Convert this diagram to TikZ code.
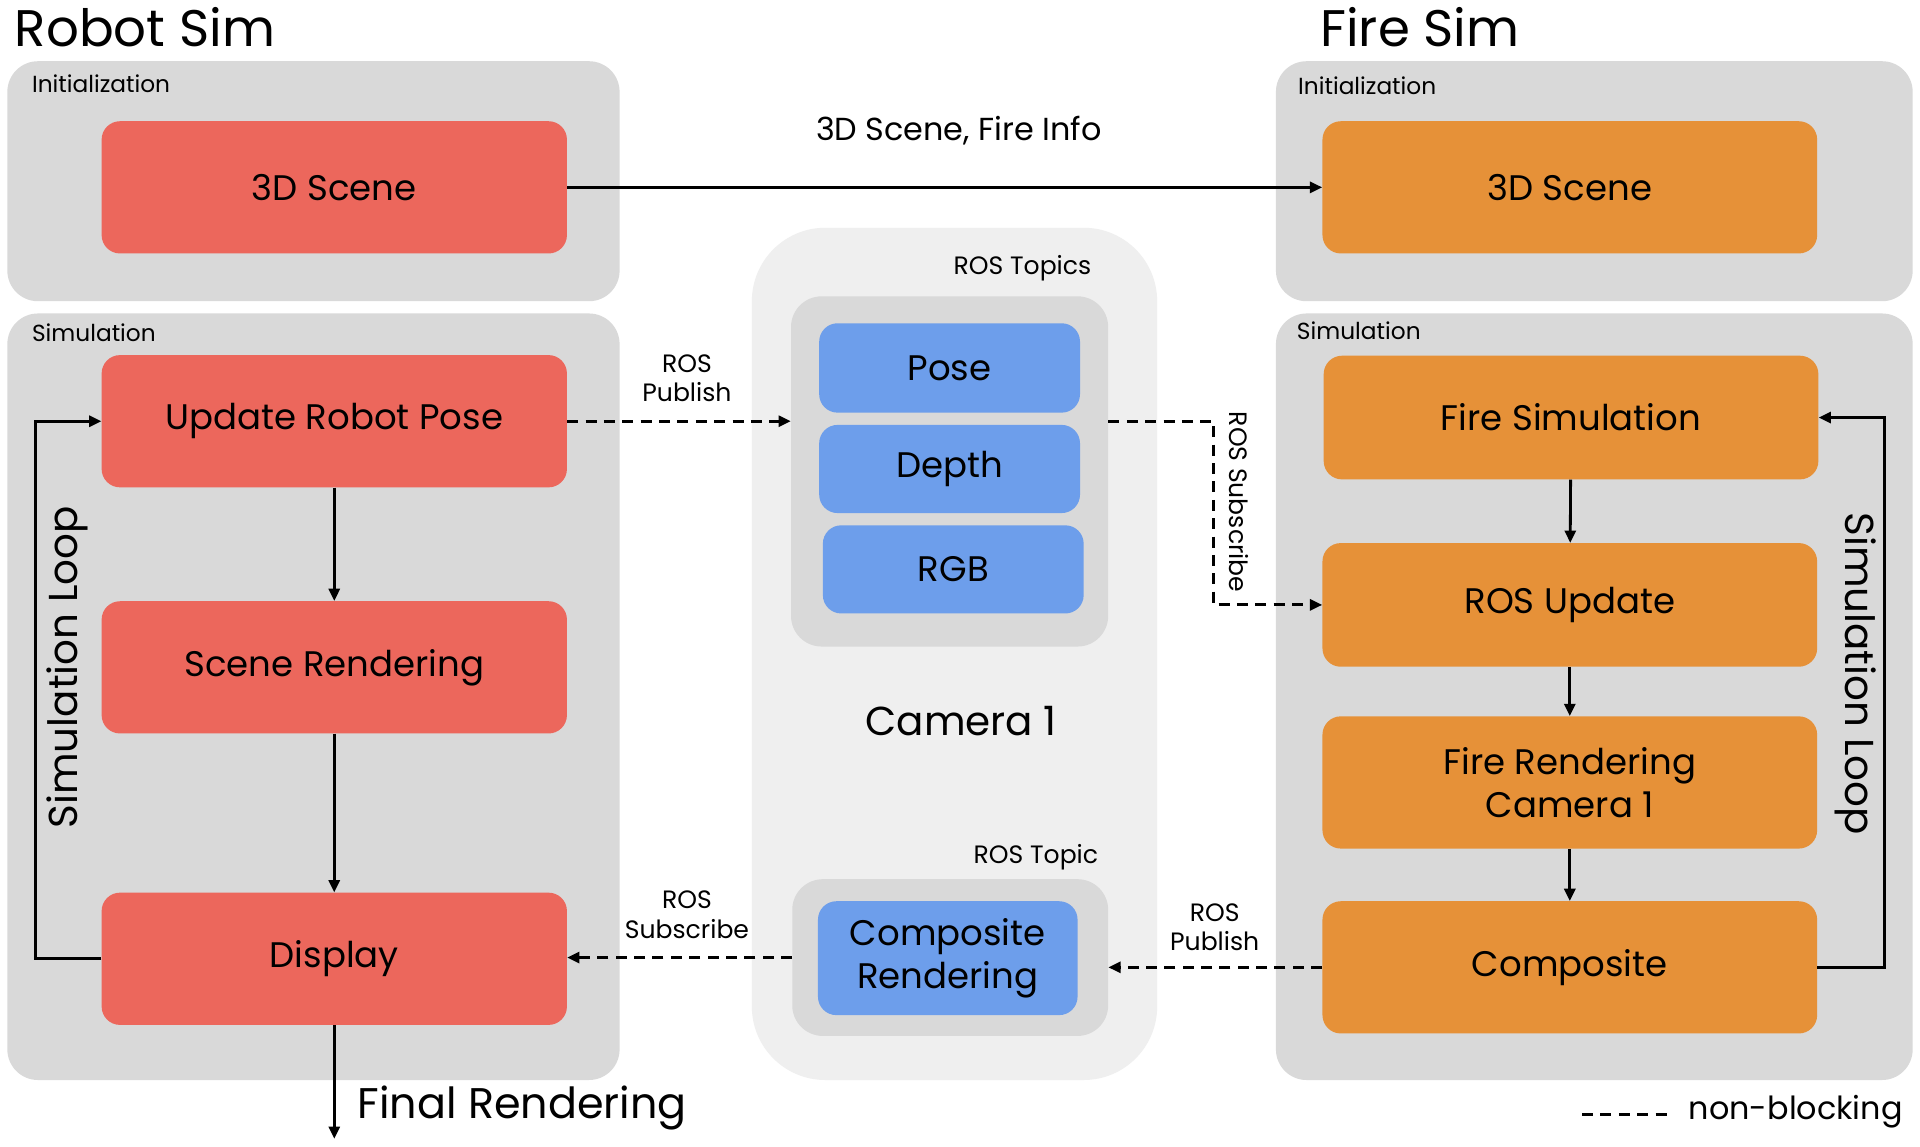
\documentclass[tikz,border=0pt]{standalone}
\usepackage{fontspec}
\setmainfont{Poppins}
\usetikzlibrary{arrows.meta}
\definecolor{robotred}{HTML}{EC675C}
\definecolor{fireorange}{HTML}{E69138}
\definecolor{topicblue}{HTML}{6D9EEB}
\definecolor{panelgray}{HTML}{D9D9D9}
\definecolor{camgray}{HTML}{EFEFEF}
\begin{document}
\begin{tikzpicture}[x=1pt,y=-1pt,
  panel/.style={fill=panelgray, rounded corners=25pt, inner sep=0pt},
  box/.style={rounded corners=15pt, minimum width=380pt, minimum height=108pt,
    align=center, inner sep=0pt, font=\fontsize{29}{35}\selectfont},
  robot/.style={box, fill=robotred},
  fire/.style={box, fill=fireorange, minimum width=404pt},
  topic/.style={box, fill=topicblue, minimum width=213pt, minimum height=73pt},
  tag/.style={anchor=west, inner sep=0pt, font=\fontsize{19}{22}\selectfont},
  small/.style={align=center, inner sep=0pt, font=\fontsize{20.5}{24}\selectfont},
  big/.style={inner sep=0pt, font=\fontsize{33}{38}\selectfont},
  flow/.style={line width=2.3pt, -{Triangle[length=10pt,width=9pt]}},
  nb/.style={flow, dash pattern=on 9pt off 6pt},
]
\fill[white] (0,0) rectangle (1568,936);
\useasboundingbox (0,0) rectangle (1568,936);

% titles
\node[anchor=west, inner sep=0pt, font=\fontsize{42}{46}\selectfont] (robotsim) at (12,22) {Robot Sim};
\node[anchor=west, inner sep=0pt, font=\fontsize{42}{46}\selectfont] (firesim-title) at (1078,22) {Fire Sim};

% panels
\node[panel, minimum width=500pt, minimum height=196pt] (rinit) at (256,148) {};
\node[panel, minimum width=500pt, minimum height=626pt] (rsim) at (256,569) {};
\node[panel, fill=camgray, rounded corners=60pt, minimum width=331pt, minimum height=696pt] (cam) at (779.5,534) {};
\node[panel, minimum width=259pt, minimum height=286pt] (topics) at (775.5,385) {};
\node[panel, minimum width=258pt, minimum height=128pt] (comptopic) at (776,782) {};
\node[panel, minimum width=520pt, minimum height=196pt] (finit) at (1302,148) {};
\node[panel, minimum width=520pt, minimum height=626pt] (fsim) at (1302,569) {};

\node[tag] (rinit-tag) at (26,68) {Initialization};
\node[tag] (rsim-tag) at (26,272) {Simulation};
\node[tag] (finit-tag) at (1060,70) {Initialization};
\node[tag] (fsim-tag) at (1059,270) {Simulation};
\node[small] (topics-tag) at (835,219) {ROS Topics};
\node[small] (comptopic-tag) at (846,700) {ROS Topic};
\node[big] (camera) at (785,589) {Camera 1};

% robot sim
\node[robot] (rscene) at (273,153) {3D Scene};
\node[robot] (rpose) at (273,344) {Update Robot Pose};
\node[robot] (rrender) at (273,545) {Scene Rendering};
\node[robot] (display) at (273,783) {Display};

% topics
\node[topic] (pose) at (775.5,300.5) {Pose};
\node[topic, minimum height=72pt] (depth) at (775.5,383) {Depth};
\node[topic, minimum height=72pt] (rgb) at (778.5,465) {RGB};
\node[topic, minimum width=212pt, minimum height=93pt] (comprender) at (774,782.5) {Composite\\Rendering};

% fire sim
\node[fire] (fscene) at (1282,153) {3D Scene};
\node[fire, minimum height=101pt] (firesim) at (1283,341) {Fire Simulation};
\node[fire, minimum height=101pt] (rosupd) at (1282,494) {ROS Update};
\node[fire] (firerender) at (1282,639) {Fire Rendering\\Camera 1};
\node[fire] (composite) at (1282,790) {Composite};

% connectors
\draw[flow] (rscene) -- (fscene);
\node[small, font=\fontsize{26}{30}\selectfont] (sceneinfo) at (783,107) {3D Scene, Fire Info};

\draw[flow] (rpose) -- (rrender);
\draw[flow] (rrender) -- (display);
\draw[flow] (display.west) -- ++(-54,0) |- (rpose.west);
\node[big, rotate=90] (rloop) at (55,545) {Simulation Loop};
\coordinate (final) at (273,930);
\draw[flow] (display) -- (final);
\node[big, anchor=west, font=\fontsize{35}{40}\selectfont] (finaltxt) at (292,905) {Final Rendering};

\draw[nb] (rpose.east) -- (rpose.east -| topics.west);
\node[small] (pub1) at (561,309) {ROS\\Publish};
\coordinate (subturn) at (991,344);
\draw[nb] (topics.east |- subturn) -- (subturn) |- (rosupd.west);
\node[small, rotate=-90] (sub1) at (1012,410) {ROS Subscribe};

\draw[flow] (firesim) -- (rosupd);
\draw[flow] (rosupd) -- (firerender);
\draw[flow] (firerender) -- (composite);
\draw[flow] (composite.east) -- ++(55,0) |- (firesim.east);
\node[big, rotate=-90] (floop) at (1515,550) {Simulation Loop};

\draw[nb] (composite.west) -- (composite.west -| comptopic.east);
\node[small] (pub2) at (992,757) {ROS\\Publish};
\draw[nb] (comptopic.west) -- (comptopic.west -| display.east);
\node[small] (sub2) at (561,747) {ROS\\Subscribe};

% legend
\coordinate (lega) at (1292,910);
\coordinate (legb) at (1363,910);
\draw[line width=2.6pt, dash pattern=on 9pt off 6pt] (lega) -- (legb);
\node[anchor=west, inner sep=0pt, font=\fontsize{26}{30}\selectfont] (legtxt) at (1379,908) {non-blocking};
\end{tikzpicture}
\end{document}
